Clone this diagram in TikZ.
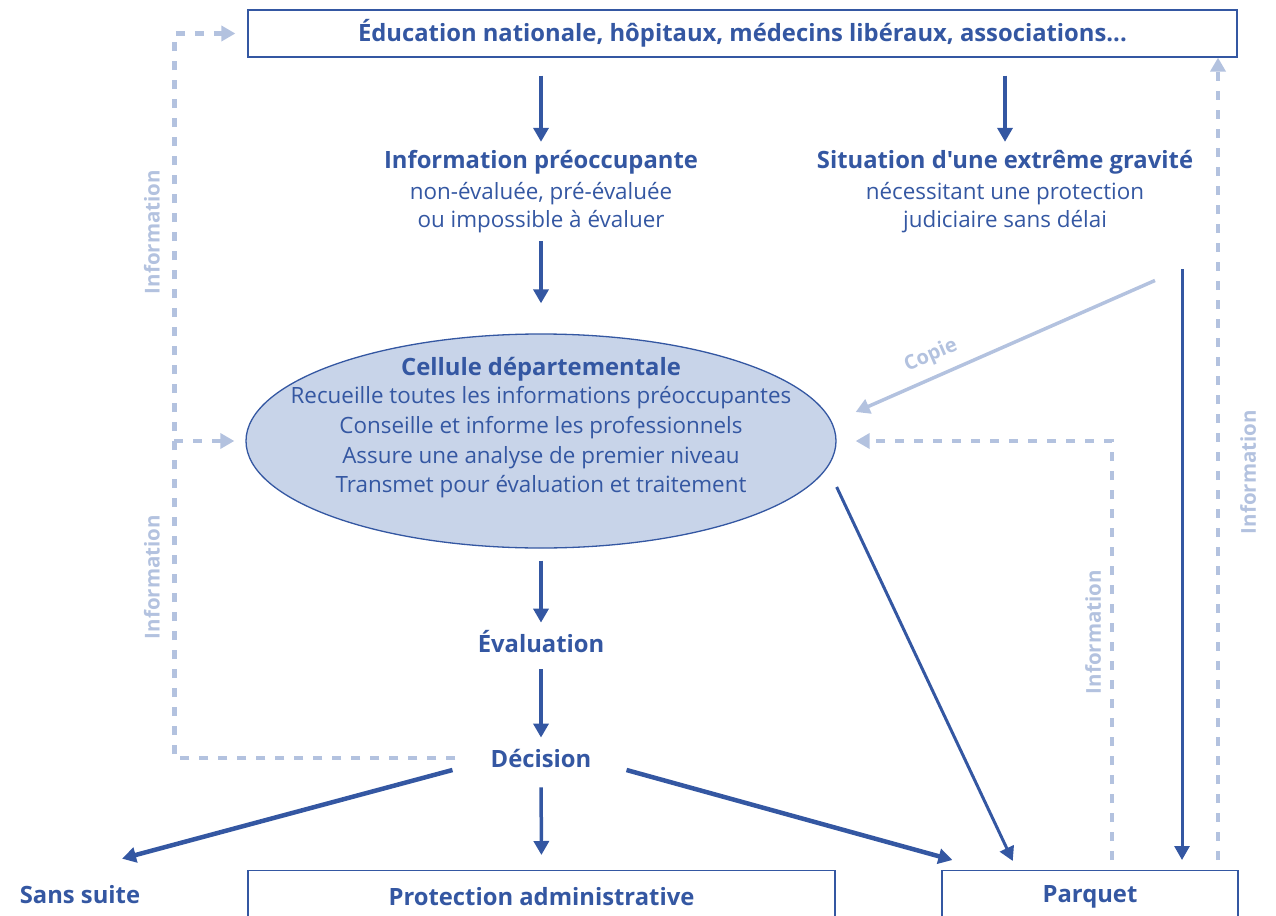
\documentclass[tikz,border=0pt]{standalone}
\usepackage{fontspec}
\setmainfont{Open Sans}[Ligatures=TeXOff]
\usetikzlibrary{shapes.geometric,arrows.meta}
\definecolor{bleu}{HTML}{3457A2}
\definecolor{bleuclair}{HTML}{B3C2DF}
\definecolor{bleufond}{HTML}{C8D4E9}
\tikzset{
  fleche/.style={bleu, line width=3.5pt, -{Triangle[length=14pt,width=15pt]}},
  info/.style={bleuclair, line width=4.5pt, dash pattern=on 9pt off 10pt},
  infotip/.style={info, -{Triangle[length=14pt,width=15pt]}},
  titre/.style={text=bleu, inner sep=0pt, font=\bfseries\fontsize{23.8}{28}\selectfont},
  texte/.style={text=bleu, inner sep=0pt, align=center, font=\fontsize{22.4}{28}\selectfont},
  cadre/.style={draw=bleu, line width=1.2pt, inner sep=0pt},
  etiquette/.style={text=bleuclair, inner sep=0pt, rotate=90, font=\bfseries\fontsize{20.5}{24}\selectfont},
}
\begin{document}
\begin{tikzpicture}[x=1pt,y=-1pt]
\useasboundingbox (0,0) rectangle (1276,915);

% Acteurs
\node[cadre, titre, minimum width=989pt, minimum height=47pt] (top) at (742.5,33.5)
  {Éducation nationale, hôpitaux, médecins libéraux, associations...};

% Information préoccupante / Situation grave
\node[titre] (ipt) at (541,162) {Information préoccupante};
\node[texte] (ips) at (541,208) {non-évaluée, pré-évaluée\\ou impossible à évaluer};
\node[titre] (sgt) at (1005,162) {Situation d'une extrême gravité};
\node[texte] (sgs) at (1005,208) {nécessitant une protection\\judiciaire sans délai};

% Cellule départementale
\node[ellipse, draw=bleu, fill=bleufond, line width=1.3pt, inner sep=0pt,
  minimum width=590pt, minimum height=214pt] (cell) at (541,441) {};
\node[titre] (cellt) at (541,369) {Cellule départementale};
\node[texte, font=\fontsize{22.4}{29.6}\selectfont] (cells) at (541,442.5)
  {Recueille toutes les informations préoccupantes\\Conseille et informe les professionnels\\Assure une analyse de premier niveau\\Transmet pour évaluation et traitement};

% Évaluation et décision
\node[titre] (eval) at (541,642) {Évaluation};
\node[titre] (dec) at (541,758) {Décision};

% Issues
\node[titre] (sans) at (80,895) {Sans suite};
\node[cadre, titre, minimum width=587pt, minimum height=52pt, anchor=north] (prot) at (541.5,870)
  {Protection administrative};
\node[cadre, titre, minimum width=296pt, minimum height=52pt, anchor=north] (parq) at (1090,870)
  {Parquet};

% Fleches principales
\draw[fleche, shorten <=18pt, shorten >=8pt] (top.south -| ipt) -- (ipt.north);
\draw[fleche, shorten <=18pt, shorten >=8pt] (top.south -| sgt) -- (sgt.north);
\draw[fleche, shorten <=8pt, shorten >=30pt] (ips.south) -- (cell.north);
\draw[fleche, shorten <=12pt, shorten >=8pt] (cell.south) -- (eval.north);
\draw[fleche, shorten <=16pt, shorten >=11pt] (eval.south) -- (dec.north);
\draw[fleche, shorten <=20pt, shorten >=15pt] (dec.south) -- (prot.north);
\draw[fleche, line width=4.5pt] ([xshift=-38pt,yshift=-12pt]dec.west) -- ([xshift=42pt,yshift=27pt]sans.north);
\draw[fleche, line width=4.5pt] ([xshift=35pt,yshift=-12pt]dec.east) -- ([xshift=11pt,yshift=10pt]parq.north west);
\draw[fleche, line width=3pt, shorten >=10pt] ([yshift=-46pt]cell.east) -- ([xshift=-73pt]parq.north);
\draw[fleche, line width=3pt, shorten >=10pt] ([xshift=177pt,yshift=-36pt]sgs.south) -- ([xshift=92pt]parq.north);

% Copie
\draw[bleuclair, line width=3.5pt, -{Triangle[length=14pt,width=15pt]}]
  ([xshift=150pt,yshift=-47pt]sgs.south) -- ([xshift=19pt,yshift=29pt]cell.east)
  node[pos=0.72, sloped, above=6pt, text=bleuclair, font=\bfseries\fontsize{20}{24}\selectfont] (copie) {Copie};

% Retours d'information
\draw[infotip, shorten >=12pt] ([xshift=-35pt]dec.west) -| ([xshift=-73pt]top.west) -- (top.west);
\draw[infotip, shorten >=11pt] ([xshift=-73pt]top.west |- cell.west) -- (cell.west);
\draw[infotip, shorten <=10pt] ([xshift=128pt]parq.north) -- ([xshift=128pt]parq.north |- top.south);
\draw[infotip, shorten <=10pt, shorten >=19pt] ([xshift=22pt]parq.north) |- (cell.east);

\node[etiquette] (info1) at (152,232) {Information};
\node[etiquette] (info2) at (152,577) {Information};
\node[etiquette] (info3) at (1093,632) {Information};
\node[etiquette] (info4) at (1248,472) {Information};

\end{tikzpicture}
\end{document}
